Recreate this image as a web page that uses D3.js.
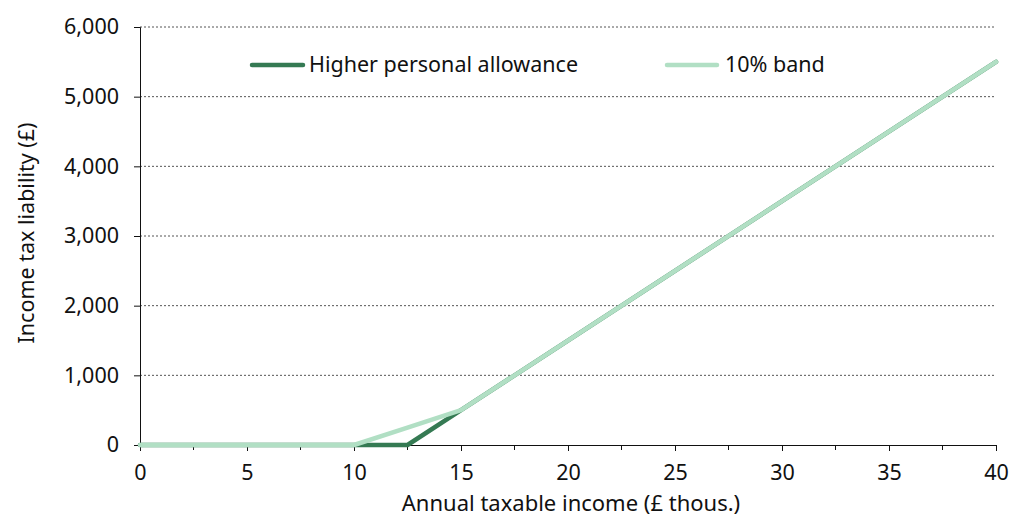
<!DOCTYPE html>
<html><head><meta charset="utf-8">
<script src="https://cdn.jsdelivr.net/npm/d3@7"></script>
<style>body{margin:0;background:#fff;} text{font-family:"Noto Sans","Open Sans",sans-serif;fill:#111;}</style>
</head><body>
<svg id="c" width="1009" height="518"></svg>
<script>
const incomeX = [0, 10, 12.5, 15, 40];
const higherAllowance = [0, 0, 0, 500, 5500];
const tenPercentBand = [0, 0, 250, 500, 5500];
const seriesNames = ["Higher personal allowance", "10% band"];
const seriesColors = ["#357a53", "#b1dfc4"];
const yTicks = [0, 1000, 2000, 3000, 4000, 5000, 6000];
const xTicks = [0, 5, 10, 15, 20, 25, 30, 35, 40];
const xMinorTicks = [2.5, 7.5, 12.5, 17.5, 22.5, 27.5, 32.5, 37.5];

const svg = d3.select("#c");
const L = 140, R = 996, T = 27, B = 445;
const x = d3.scaleLinear().domain([0, 40]).range([L, R]);
const y = d3.scaleLinear().domain([0, 6000]).range([B, T]);

// gridlines
svg.append("g").selectAll("line").data(yTicks.filter(d => d > 0)).join("line")
  .attr("x1", L).attr("x2", R).attr("y1", d => y(d)).attr("y2", d => y(d))
  .attr("stroke", "#555").attr("stroke-width", 1).attr("stroke-dasharray", "2,2");

// y axis
const yAxis = svg.append("g").attr("transform", `translate(${L},0)`)
  .call(d3.axisLeft(y).tickValues(yTicks).tickSize(6).tickPadding(15).tickFormat(d3.format(",")));
yAxis.select(".domain").attr("stroke", "#111");
yAxis.selectAll(".tick line").attr("stroke", "#111");
yAxis.selectAll("text").attr("font-size", 21.5).style("font-family", "'Noto Sans',sans-serif").attr("fill", "#111");

// x axis
const xAxis = svg.append("g").attr("transform", `translate(0,${B})`)
  .call(d3.axisBottom(x).tickValues(xTicks).tickSize(6).tickPadding(14).tickFormat(d3.format("d")));
xAxis.select(".domain").attr("stroke", "#111");
xAxis.selectAll(".tick line").attr("stroke", "#111");
xAxis.selectAll("text").attr("font-size", 21.5).style("font-family", "'Noto Sans',sans-serif").attr("fill", "#111");
svg.append("g").attr("transform", `translate(0,${B})`).selectAll("line").data(xMinorTicks).join("line")
  .attr("x1", d => x(d)).attr("x2", d => x(d)).attr("y1", 0).attr("y2", 5).attr("stroke", "#111");

// lines
const line = d3.line().x(d => x(d[0])).y(d => y(d[1]));
[higherAllowance, tenPercentBand].forEach((vals, i) => {
  svg.append("path").datum(incomeX.map((v, j) => [v, vals[j]]))
    .attr("d", line).attr("fill", "none").attr("stroke", seriesColors[i])
    .attr("stroke-width", 4.5).attr("stroke-linejoin", "round").attr("stroke-linecap", "round");
});

// legend
const legendPos = [[252, 303, 309], [667, 717, 725]];
seriesNames.forEach((n, i) => {
  const [a, b, t] = legendPos[i];
  svg.append("line").attr("x1", a).attr("x2", b).attr("y1", 65).attr("y2", 65)
    .attr("stroke", seriesColors[i]).attr("stroke-width", 4.5).attr("stroke-linecap", "round");
  svg.append("text").attr("x", t).attr("y", 72).attr("font-size", 21.5).text(n);
});

// axis titles
svg.append("text").attr("x", 571).attr("y", 511).attr("text-anchor", "middle")
  .attr("font-size", 22).text("Annual taxable income (£ thous.)");
svg.append("text").attr("transform", `translate(34,233) rotate(-90)`).attr("text-anchor", "middle")
  .attr("font-size", 21.5).text("Income tax liability (£)");
</script>
</body></html>
